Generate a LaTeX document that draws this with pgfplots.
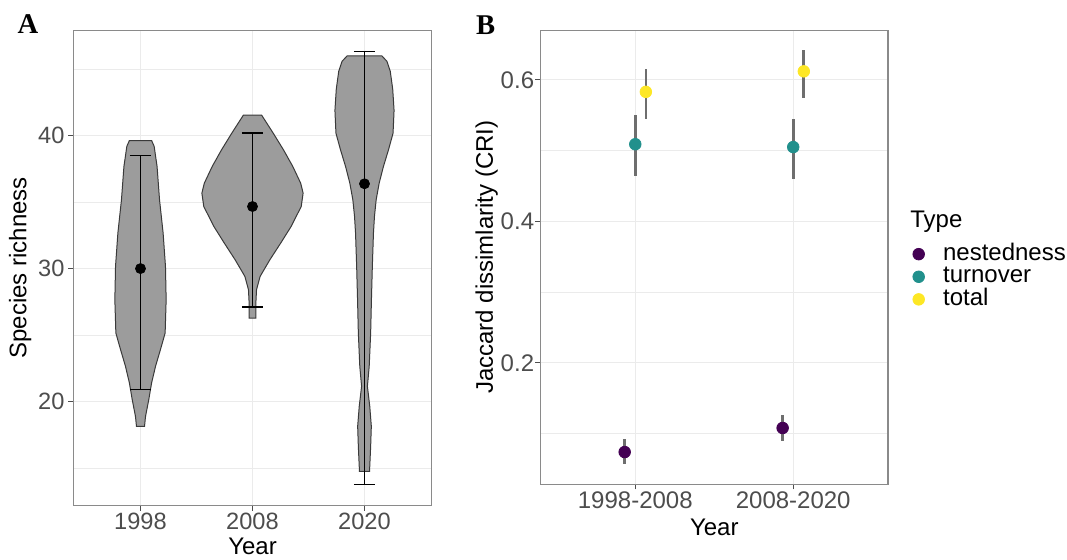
\documentclass[border=0pt]{standalone}
\usepackage{fontspec}
\setmainfont{Liberation Sans}
\newfontfamily\panelfont{Liberation Serif}
\usepackage{pgfplots}
\pgfplotsset{compat=1.18}

\definecolor{gridc}{HTML}{EBEBEB}
\definecolor{borderc}{HTML}{8A8A8A}
\definecolor{tickc}{HTML}{4D4D4D}
\definecolor{labc}{HTML}{4D4D4D}
\definecolor{violinfill}{HTML}{9C9C9C}
\definecolor{violinline}{HTML}{3A3A3A}
\definecolor{errc}{HTML}{6E6E6E}
\definecolor{vN}{HTML}{440154}
\definecolor{vT}{HTML}{21908C}
\definecolor{vTo}{HTML}{FDE725}

\pgfplotsset{
  ggbase/.style={
    scale only axis, anchor=south west,
    axis line style={draw=borderc, line width=0.55pt},
    grid=both,
    major grid style={draw=gridc, line width=0.6pt},
    minor grid style={draw=gridc, line width=0.35pt},
    tick align=outside, tick pos=left,
    major tick length=2.6pt, minor tick length=0pt,
    tick style={draw=tickc, line width=0.55pt},
    /pgf/number format/assume math mode=true,
    label style={font=\fontsize{12}{14}\selectfont, text=black},
  },
  whisk/.style={black, line width=0.75pt, forget plot},
  violin/.style={fill=violinfill, draw=violinline, line width=0.5pt, forget plot},
  pr/.style={only marks, mark=*, mark size=2.9pt,
    error bars/y dir=both, error bars/y explicit, error bars/error mark=none,
    error bars/error bar style={line width=1.35pt, errc}},
}

\begin{document}
\begin{tikzpicture}

% panel A: species richness per year
\begin{axis}[ggbase,
  at={(36.65pt,26.75pt)}, width=179.2pt, height=237.6pt,
  xmin=0.4, xmax=3.6, ymin=12.17, ymax=47.93,
  xtick={1,2,3}, xticklabels={1998,2008,2020},
  ytick={20,30,40}, minor ytick={15,25,35,45},
  ticklabel style={font=\fontsize{11.8}{13}\selectfont, text=labc, inner sep=0pt},
  xticklabel style={yshift=-1.1pt},
  yticklabel style={xshift=-1.6pt},
  xlabel={Year}, ylabel={Species richness},
  xlabel style={at={([yshift=-16pt]axis description cs:0.5,0)}, anchor=north, inner sep=0pt},
  ylabel style={at={([xshift=-20.8pt]axis description cs:0,0.5)}, anchor=south, inner sep=0pt},
]
% violins
\addplot[violin] coordinates {
(1.036,18.13)(1.045,18.88)(1.074,20.14)(1.099,21.39)(1.134,22.64)(1.178,23.9)(1.22,25.15)
(1.229,27.65)(1.223,30.16)(1.202,32.67)(1.17,35.17)(1.148,37.68)(1.122,39.2)(1.0995,39.63)
(0.9005,39.63)(0.878,39.2)(0.852,37.68)(0.83,35.17)(0.798,32.67)(0.777,30.16)(0.771,27.65)
(0.78,25.15)(0.822,23.9)(0.866,22.64)(0.901,21.39)(0.926,20.14)(0.955,18.88)(0.964,18.13)
} -- cycle;
\addplot[violin] coordinates {
(2.03,26.28)(2.03,27.4)(2.036,28.41)(2.068,29.41)(2.155,30.66)(2.252,31.92)(2.345,33.17)
(2.435,34.67)(2.452,35.68)(2.43,36.43)(2.36,37.68)(2.277,38.93)(2.185,40.19)(2.082,41.54)
(1.918,41.54)(1.815,40.19)(1.723,38.93)(1.64,37.68)(1.57,36.43)(1.548,35.68)(1.565,34.67)
(1.655,33.17)(1.748,31.92)(1.845,30.66)(1.932,29.41)(1.964,28.41)(1.97,27.4)(1.97,26.28)
} -- cycle;
\addplot[violin] coordinates {
(3.045,14.74)(3.055,16.62)(3.061,18.13)(3.047,19.63)(3.026,21.14)(3.042,22.64)(3.055,25.15)
(3.062,27.65)(3.07,30.16)(3.08,32.67)(3.089,33.92)(3.104,35.17)(3.131,36.43)(3.169,37.68)
(3.214,38.93)(3.255,40.19)(3.264,41.9)(3.252,43.5)(3.23,44.85)(3.2,45.6)(3.156,46.0)
(2.844,46.0)(2.8,45.6)(2.77,44.85)(2.748,43.5)(2.736,41.9)(2.745,40.19)(2.786,38.93)
(2.831,37.68)(2.869,36.43)(2.896,35.17)(2.911,33.92)(2.92,32.67)(2.93,30.16)(2.938,27.65)
(2.945,25.15)(2.958,22.64)(2.974,21.14)(2.953,19.63)(2.939,18.13)(2.945,16.62)(2.955,14.74)
} -- cycle;
% whiskers and caps
\addplot[whisk] coordinates {(1,20.9)(1,38.5)};
\addplot[whisk] coordinates {(0.905,38.5)(1.095,38.5)};
\addplot[whisk] coordinates {(0.905,20.9)(1.095,20.9)};
\addplot[whisk] coordinates {(2,27.1)(2,40.2)};
\addplot[whisk] coordinates {(1.905,40.2)(2.095,40.2)};
\addplot[whisk] coordinates {(1.905,27.1)(2.095,27.1)};
\addplot[whisk] coordinates {(3,13.74)(3,46.32)};
\addplot[whisk] coordinates {(2.905,46.32)(3.095,46.32)};
\addplot[whisk] coordinates {(2.905,13.74)(3.095,13.74)};
% means
\addplot[only marks, mark=*, mark size=2.5pt, black] coordinates {(1,30.0)(2,34.67)(3,36.38)};
\end{axis}

% panel B: Jaccard dissimilarity components
\begin{axis}[ggbase,
  at={(270.25pt,37.45pt)}, width=173.75pt, height=226.9pt,
  xmin=0.4, xmax=2.6, ymin=0.0287, ymax=0.670,
  xtick={1,2}, xticklabels={1998-2008,2008-2020},
  ytick={0.2,0.4,0.6}, minor ytick={0.1,0.3,0.5},
  ticklabel style={font=\fontsize{12}{14}\selectfont, text=labc, inner sep=0pt},
  xticklabel style={yshift=-1.2pt},
  yticklabel style={/pgf/number format/fixed, /pgf/number format/fixed zerofill,
    /pgf/number format/precision=1, xshift=-0.4pt},
  xlabel={Year}, ylabel={Jaccard dissimlarity (CRI)},
  xlabel style={at={([yshift=-17.3pt]axis description cs:0.5,0)}, anchor=north, inner sep=0pt},
  ylabel style={at={([xshift=-21.1pt]axis description cs:0,0.5)}, anchor=south, inner sep=0pt},
  legend style={draw=none, fill=none, inner sep=0pt,
    at={(axis description cs:1.0705,0.4569)}, anchor=west,
    font=\fontsize{12}{14}\selectfont, row sep=0pt,
    nodes={inner sep=0pt, text height=8.75pt, text depth=2.55pt},
    /tikz/every odd column/.append style={column sep=9.3pt}},
  legend cell align=left,
  legend image code/.code={\draw[#1] plot coordinates {(0pt,0pt)};},
]
\addplot[pr, color=vN] table[x=x, y=y, y error plus=ep, y error minus=em] {
x     y     ep    em
0.933 0.074 0.019 0.017
1.933 0.108 0.019 0.019
};
\addlegendentry{nestedness}
\addplot[pr, color=vT] table[x=x, y=y, y error plus=ep, y error minus=em] {
x     y     ep    em
1.0   0.509 0.041 0.0445
2.0   0.505 0.040 0.045
};
\addlegendentry{turnover}
\addplot[pr, color=vTo] table[x=x, y=y, y error plus=ep, y error minus=em] {
x     y     ep    em
1.067 0.583 0.033 0.038
2.067 0.612 0.030 0.038
};
\addlegendentry{total}
\end{axis}

% legend title
\node[anchor=base west, inner sep=0pt, font=\fontsize{12}{14}\selectfont]
  at (455pt,165.9pt) {Type};

\node[anchor=base west, inner sep=0pt, font=\panelfont\bfseries\fontsize{14.3}{16}\selectfont]
  at (8.65pt,263pt) {A};
\node[anchor=base west, inner sep=0pt, font=\panelfont\bfseries\fontsize{14.3}{16}\selectfont]
  at (237.8pt,262.5pt) {B};

\pgfresetboundingbox
\path (0,0) rectangle (533.5pt,279.5pt);
\end{tikzpicture}
\end{document}
